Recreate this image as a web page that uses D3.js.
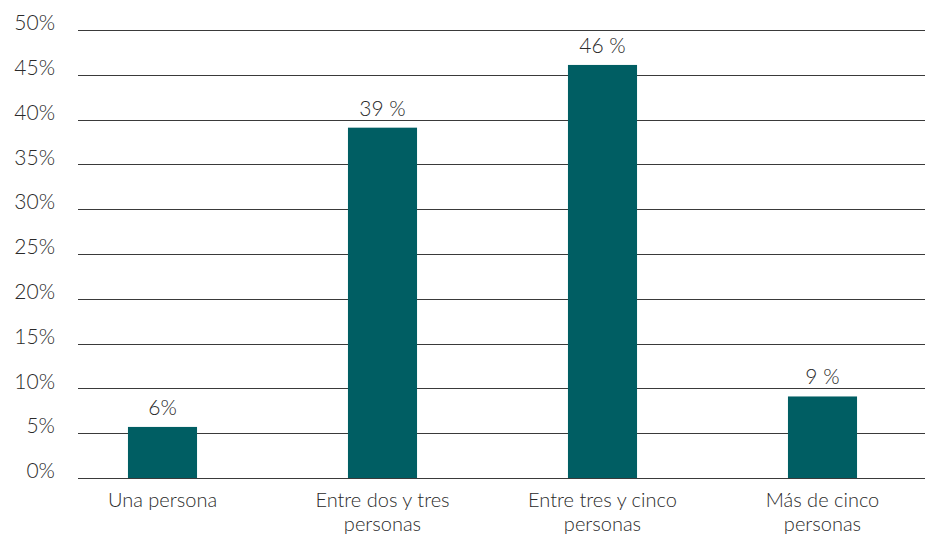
<!DOCTYPE html>
<html><head><meta charset="utf-8">
<script src="https://cdn.jsdelivr.net/npm/d3@7"></script>
<style>body{margin:0;background:#fff}svg{display:block}</style>
</head><body>
<script>
const categories = [["Una persona"], ["Entre dos y tres", "personas"], ["Entre tres y cinco", "personas"], ["Más de cinco", "personas"]];
const values = [5.7, 39.1, 46.1, 9.1];
const valueLabels = ["6%", "39 %", "46 %", "9 %"];
const yTicks = [0, 5, 10, 15, 20, 25, 30, 35, 40, 45, 50];

const W = 925, H = 535;
const svg = d3.select("body").append("svg").attr("width", W).attr("height", H);
const font = "Lato, 'Open Sans', sans-serif";
const y = d3.scaleLinear().domain([0, 50]).range([478, 30]);
const x = d3.scaleBand().domain(d3.range(categories.length)).range([52.5, 932.5]).paddingInner(0.686).paddingOuter(0.343);

// gridlines
svg.append("g").selectAll("line").data(yTicks).join("line")
  .attr("x1", 78).attr("x2", W)
  .attr("y1", d => Math.round(y(d)) + 0.5).attr("y2", d => Math.round(y(d)) + 0.5)
  .attr("stroke", "#3a3a3a").attr("stroke-width", 1.2);

// y labels
svg.append("g").selectAll("text").data(yTicks).join("text")
  .attr("x", 55).attr("y", d => y(d) - 5)
  .attr("text-anchor", "end").attr("dominant-baseline", "middle")
  .attr("font-family", font).attr("font-size", 21).attr("font-weight", 300).attr("fill", "#2a2a2a")
  .text(d => d + "%");

// bars
svg.append("g").selectAll("rect").data(values).join("rect")
  .attr("x", (d, i) => x(i)).attr("width", x.bandwidth())
  .attr("y", d => y(d)).attr("height", d => y(0) - y(d))
  .attr("fill", "#005e63");

// value labels
svg.append("g").selectAll("text").data(values).join("text")
  .attr("x", (d, i) => x(i) + x.bandwidth() / 2).attr("y", d => y(d) - 12)
  .attr("text-anchor", "middle")
  .attr("font-family", font).attr("font-size", 21).attr("font-weight", 300).attr("fill", "#2a2a2a")
  .text((d, i) => valueLabels[i]);

// category labels
const cg = svg.append("g").selectAll("text").data(categories).join("text")
  .attr("x", (d, i) => x(i) + x.bandwidth() / 2).attr("y", 507)
  .attr("text-anchor", "middle")
  .attr("font-family", font).attr("font-size", 20).attr("font-weight", 300).attr("fill", "#2a2a2a");
cg.selectAll("tspan").data(d => d).join("tspan")
  .attr("x", function () { return d3.select(this.parentNode).attr("x"); })
  .attr("dy", (d, j) => j === 0 ? 0 : 24)
  .text(d => d);
</script>
</body></html>
